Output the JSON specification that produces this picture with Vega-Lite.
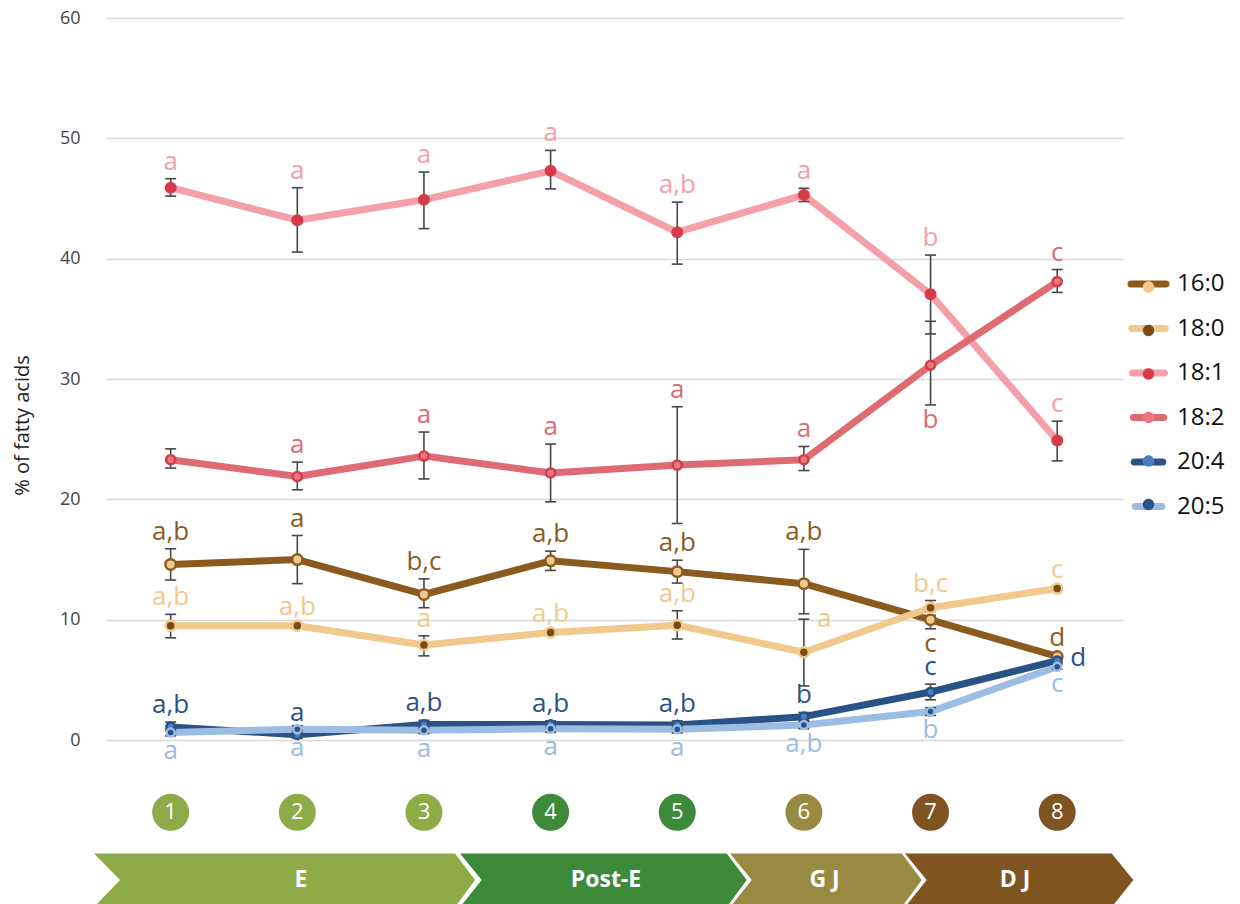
{
  "$schema": "https://vega.github.io/schema/vega-lite/v6.json",
  "autosize": {"type": "none"},
  "padding": {"left": 106, "top": 18, "right": 117, "bottom": 0},
  "width": 1017,
  "height": 886,
  "background": "white",
  "config": {"view": {"stroke": null}, "font": "Open Sans"},
  "datasets": {
    "fa": [
      {"s": "16:0", "x": 1, "v": 14.6, "lo": 13.3, "hi": 15.9, "lab": "a,b", "pos": "above"},
      {"s": "16:0", "x": 2, "v": 15.0, "lo": 13.0, "hi": 17.0, "lab": "a", "pos": "above"},
      {"s": "16:0", "x": 3, "v": 12.1, "lo": 11.0, "hi": 13.4, "lab": "b,c", "pos": "above"},
      {"s": "16:0", "x": 4, "v": 14.9, "lo": 14.1, "hi": 15.7, "lab": "a,b", "pos": "above"},
      {"s": "16:0", "x": 5, "v": 14.0, "lo": 13.05, "hi": 14.95, "lab": "a,b", "pos": "above"},
      {"s": "16:0", "x": 6, "v": 13.0, "lo": 10.5, "hi": 15.85, "lab": "a,b", "pos": "above"},
      {"s": "16:0", "x": 7, "v": 10.0, "lo": 9.25, "hi": 10.75, "lab": "c", "pos": "below"},
      {"s": "16:0", "x": 8, "v": 6.95, "lo": 6.8, "hi": 7.1, "lab": "d", "pos": "above"},
      {"s": "18:0", "x": 1, "v": 9.5, "lo": 8.5, "hi": 10.45, "lab": "a,b", "pos": "above"},
      {"s": "18:0", "x": 2, "v": 9.5, "lo": 9.35, "hi": 9.65, "lab": "a,b", "pos": "above"},
      {"s": "18:0", "x": 3, "v": 7.9, "lo": 7.0, "hi": 8.67, "lab": "a", "pos": "above"},
      {"s": "18:0", "x": 4, "v": 8.95, "lo": 8.8, "hi": 9.1, "lab": "a,b", "pos": "above"},
      {"s": "18:0", "x": 5, "v": 9.55, "lo": 8.4, "hi": 10.75, "lab": "a,b", "pos": "above"},
      {"s": "18:0", "x": 6, "v": 7.3, "lo": 4.5, "hi": 10.05, "lab": "a", "pos": "right"},
      {"s": "18:0", "x": 7, "v": 11.0, "lo": 10.35, "hi": 11.6, "lab": "b,c", "pos": "above"},
      {"s": "18:0", "x": 8, "v": 12.6, "lo": 12.45, "hi": 12.75, "lab": "c", "pos": "above"},
      {"s": "18:1", "x": 1, "v": 45.9, "lo": 45.2, "hi": 46.65, "lab": "a", "pos": "above"},
      {"s": "18:1", "x": 2, "v": 43.2, "lo": 40.55, "hi": 45.9, "lab": "a", "pos": "above"},
      {"s": "18:1", "x": 3, "v": 44.9, "lo": 42.5, "hi": 47.2, "lab": "a", "pos": "above"},
      {"s": "18:1", "x": 4, "v": 47.3, "lo": 45.8, "hi": 49.0, "lab": "a", "pos": "above"},
      {"s": "18:1", "x": 5, "v": 42.2, "lo": 39.55, "hi": 44.7, "lab": "a,b", "pos": "above"},
      {"s": "18:1", "x": 6, "v": 45.3, "lo": 44.75, "hi": 45.85, "lab": "a", "pos": "above"},
      {"s": "18:1", "x": 7, "v": 37.05, "lo": 33.75, "hi": 40.3, "lab": "b", "pos": "above"},
      {"s": "18:1", "x": 8, "v": 24.9, "lo": 23.2, "hi": 26.5, "lab": "c", "pos": "above"},
      {"s": "18:2", "x": 1, "v": 23.3, "lo": 22.6, "hi": 24.2, "lab": "", "pos": "none"},
      {"s": "18:2", "x": 2, "v": 21.9, "lo": 20.8, "hi": 23.1, "lab": "a", "pos": "above"},
      {"s": "18:2", "x": 3, "v": 23.6, "lo": 21.7, "hi": 25.6, "lab": "a", "pos": "above"},
      {"s": "18:2", "x": 4, "v": 22.2, "lo": 19.8, "hi": 24.6, "lab": "a", "pos": "above"},
      {"s": "18:2", "x": 5, "v": 22.85, "lo": 18.0, "hi": 27.7, "lab": "a", "pos": "above"},
      {"s": "18:2", "x": 6, "v": 23.3, "lo": 22.4, "hi": 24.4, "lab": "a", "pos": "above"},
      {"s": "18:2", "x": 7, "v": 31.15, "lo": 27.85, "hi": 34.8, "lab": "b", "pos": "below"},
      {"s": "18:2", "x": 8, "v": 38.1, "lo": 37.2, "hi": 39.1, "lab": "c", "pos": "above"},
      {"s": "20:4", "x": 1, "v": 1.1, "lo": 0.8, "hi": 1.5, "lab": "a,b", "pos": "above"},
      {"s": "20:4", "x": 2, "v": 0.45, "lo": 0.15, "hi": 0.8, "lab": "a", "pos": "above"},
      {"s": "20:4", "x": 3, "v": 1.3, "lo": 1.0, "hi": 1.65, "lab": "a,b", "pos": "above"},
      {"s": "20:4", "x": 4, "v": 1.3, "lo": 1.0, "hi": 1.6, "lab": "a,b", "pos": "above"},
      {"s": "20:4", "x": 5, "v": 1.25, "lo": 0.95, "hi": 1.6, "lab": "a,b", "pos": "above"},
      {"s": "20:4", "x": 6, "v": 1.95, "lo": 1.65, "hi": 2.3, "lab": "b", "pos": "above"},
      {"s": "20:4", "x": 7, "v": 4.0, "lo": 3.35, "hi": 4.65, "lab": "c", "pos": "above"},
      {"s": "20:4", "x": 8, "v": 6.6, "lo": 6.4, "hi": 6.8, "lab": "d", "pos": "right"},
      {"s": "20:5", "x": 1, "v": 0.64, "lo": 0.35, "hi": 0.9, "lab": "a", "pos": "below"},
      {"s": "20:5", "x": 2, "v": 0.9, "lo": 0.6, "hi": 1.2, "lab": "a", "pos": "below"},
      {"s": "20:5", "x": 3, "v": 0.83, "lo": 0.55, "hi": 1.1, "lab": "a", "pos": "below"},
      {"s": "20:5", "x": 4, "v": 0.95, "lo": 0.65, "hi": 1.25, "lab": "a", "pos": "below"},
      {"s": "20:5", "x": 5, "v": 0.9, "lo": 0.6, "hi": 1.2, "lab": "a", "pos": "below"},
      {"s": "20:5", "x": 6, "v": 1.25, "lo": 0.95, "hi": 1.55, "lab": "a,b", "pos": "below"},
      {"s": "20:5", "x": 7, "v": 2.37, "lo": 2.05, "hi": 2.7, "lab": "b", "pos": "below"},
      {"s": "20:5", "x": 8, "v": 6.1, "lo": 5.9, "hi": 6.3, "lab": "c", "pos": "below"}
    ],
    "stages": [
      {"stage": "E", "y": -9.41, "xl": 0.3948, "xr": 3.2452},
      {"stage": "E", "y": -11.62, "xl": 0.6001, "xr": 3.4031},
      {"stage": "E", "y": -13.88, "xl": 0.3948, "xr": 3.2452},
      {"stage": "Post-E", "y": -9.41, "xl": 3.2847, "xr": 5.3904},
      {"stage": "Post-E", "y": -11.62, "xl": 3.456, "xr": 5.5483},
      {"stage": "Post-E", "y": -13.88, "xl": 3.2847, "xr": 5.3904},
      {"stage": "G J", "y": -9.41, "xl": 5.4165, "xr": 6.7722},
      {"stage": "G J", "y": -11.62, "xl": 5.5878, "xr": 6.9301},
      {"stage": "G J", "y": -13.88, "xl": 5.4165, "xr": 6.7722},
      {"stage": "D J", "y": -9.41, "xl": 6.7983, "xr": 8.4303},
      {"stage": "D J", "y": -11.62, "xl": 6.9696, "xr": 8.6009},
      {"stage": "D J", "y": -13.88, "xl": 6.7983, "xr": 8.4303}
    ],
    "stagelabels": [
      {"stage": "E", "x": 2.029},
      {"stage": "Post-E", "x": 4.437},
      {"stage": "G J", "x": 6.163},
      {"stage": "D J", "x": 7.667}
    ],
    "samples": [
      {"x": 1, "n": "1", "stage": "E"},
      {"x": 2, "n": "2", "stage": "E"},
      {"x": 3, "n": "3", "stage": "E"},
      {"x": 4, "n": "4", "stage": "Post-E"},
      {"x": 5, "n": "5", "stage": "Post-E"},
      {"x": 6, "n": "6", "stage": "G J"},
      {"x": 7, "n": "7", "stage": "D J"},
      {"x": 8, "n": "8", "stage": "D J"}
    ]
  },
  "resolve": {"scale": {"fill": "independent"}},
  "layer": [
    {
      "data": {"name": "fa"},
      "mark": {"type": "line", "strokeWidth": 7, "strokeCap": "round", "strokeJoin": "round"},
      "encoding": {
        "x": {"field": "x", "type": "quantitative", "scale": {"domain": [0.4895, 8.5195], "nice": false, "zero": false}, "axis": null},
        "y": {
          "field": "v", "type": "quantitative",
          "scale": {"domain": [-13.616, 60], "nice": false, "zero": false},
          "axis": {
            "title": "% of fatty acids", "values": [0, 10, 20, 30, 40, 50, 60],
            "grid": true, "gridColor": "#d9d9d9", "gridWidth": 1.5,
            "domain": false, "ticks": false,
            "labelFontSize": 18, "labelColor": "#444444", "labelPadding": 26,
            "titleFontSize": 20, "titleFontWeight": "normal", "titleColor": "#222222",
            "titleAngle": -90, "titleX": -84, "titleY": 407, "titleAlign": "center", "titleBaseline": "middle"
          }
        },
        "color": {
          "field": "s", "type": "nominal",
          "scale": {"domain": ["16:0", "18:0", "18:1", "18:2", "20:4", "20:5"], "range": ["#8b5a1e", "#f2c98c", "#f4a0a8", "#e06a72", "#2a5286", "#9bbde3"]},
          "legend": {
            "orient": "none", "legendX": 1030.5, "legendY": 254, "title": null,
            "symbolType": "M-3.33,0L3.33,0", "symbolSize": 506, "symbolStrokeWidth": 7,
            "labelFontSize": 24, "labelColor": "#111111", "labelOffset": 16.5, "rowPadding": 16.5, "padding": 0,
            "encode": {"symbols": {"update": {"strokeWidth": {"value": 7}, "strokeCap": {"value": "round"}, "fill": {"value": "transparent"}}}}
          }
        }
      }
    },
    {
      "data": {"name": "stages"},
      "mark": {"type": "area", "orient": "horizontal"},
      "encoding": {
        "y": {"field": "y", "type": "quantitative", "title": "% of fatty acids"},
        "x": {"field": "xl", "type": "quantitative", "axis": null},
        "x2": {"field": "xr"},
        "fill": {"field": "stage", "type": "nominal", "scale": {"domain": ["E", "Post-E", "G J", "D J"], "range": ["#8dab47", "#3d8a3b", "#988b41", "#7f5421"]}, "legend": null}
      }
    },
    {
      "data": {"name": "stagelabels"},
      "mark": {"type": "text", "fontSize": 23, "fontWeight": "bold", "color": "white", "baseline": "middle", "align": "center"},
      "encoding": {
        "x": {"field": "x", "type": "quantitative", "axis": null},
        "y": {"datum": -11.62, "type": "quantitative"},
        "text": {"field": "stage"}
      }
    },
    {
      "data": {"name": "samples"},
      "mark": {"type": "point", "filled": true, "shape": "circle", "size": 1370, "opacity": 1},
      "encoding": {
        "x": {"field": "x", "type": "quantitative", "axis": null},
        "y": {"datum": -6, "type": "quantitative"},
        "fill": {"field": "stage", "type": "nominal", "scale": {"domain": ["E", "Post-E", "G J", "D J"], "range": ["#8dab47", "#3d8a3b", "#988b41", "#7f5421"]}, "legend": null}
      }
    },
    {
      "data": {"name": "samples"},
      "mark": {"type": "text", "fontSize": 22, "color": "white", "baseline": "middle", "align": "center"},
      "encoding": {
        "x": {"field": "x", "type": "quantitative", "axis": null},
        "y": {"datum": -6, "type": "quantitative"},
        "text": {"field": "n"}
      }
    },
    {
      "data": {"name": "fa"},
      "mark": {"type": "rule", "color": "#474747", "strokeWidth": 1.6},
      "encoding": {
        "x": {"field": "x", "type": "quantitative", "axis": null},
        "y": {"field": "lo", "type": "quantitative", "title": "% of fatty acids"},
        "y2": {"field": "hi"}
      }
    },
    {
      "data": {"name": "fa"},
      "mark": {"type": "tick", "orient": "horizontal", "size": 11, "thickness": 1.6, "color": "#474747", "opacity": 1},
      "encoding": {
        "x": {"field": "x", "type": "quantitative", "axis": null},
        "y": {"field": "lo", "type": "quantitative", "title": "% of fatty acids"}
      }
    },
    {
      "data": {"name": "fa"},
      "mark": {"type": "tick", "orient": "horizontal", "size": 11, "thickness": 1.6, "color": "#474747", "opacity": 1},
      "encoding": {
        "x": {"field": "x", "type": "quantitative", "axis": null},
        "y": {"field": "hi", "type": "quantitative", "title": "% of fatty acids"}
      }
    },
    {
      "data": {"name": "fa"},
      "mark": {"type": "point", "filled": true, "shape": "circle", "strokeWidth": 2.5, "opacity": 1},
      "encoding": {
        "x": {"field": "x", "type": "quantitative", "axis": null},
        "y": {"field": "v", "type": "quantitative", "title": "% of fatty acids"},
        "fill": {
          "field": "s", "type": "nominal",
          "scale": {"domain": ["16:0", "18:0", "18:1", "18:2", "20:4", "20:5"], "range": ["#f2c98c", "#7a4b17", "#d63b47", "#e8787f", "#4a80c2", "#2a5286"]},
          "legend": {
            "orient": "none", "legendX": 1027.5, "legendY": 254, "title": null,
            "symbolType": "M0.42,0A0.42,0.42,0,1,1,-0.42,0A0.42,0.42,0,1,1,0.42,0Z", "symbolSize": 729, "symbolStrokeWidth": 3,
            "labelFontSize": 24, "labelExpr": "''", "labelOffset": 19.5, "rowPadding": 16.5, "padding": 0,
            "encode": {"symbols": {"update": {"stroke": {"scale": "stroke", "field": "value"}, "strokeWidth": {"value": 3}, "opacity": {"value": 1}}}}
          }
        },
        "stroke": {
          "field": "s", "type": "nominal",
          "scale": {"domain": ["16:0", "18:0", "18:1", "18:2", "20:4", "20:5"], "range": ["#8b5a1e", "#f2c98c", "#d63b47", "#d63b47", "#2a5286", "#9bbde3"]},
          "legend": null
        },
        "size": {
          "field": "s", "type": "ordinal",
          "scale": {"domain": ["16:0", "18:0", "18:1", "18:2", "20:4", "20:5"], "range": [110, 64, 90, 150, 110, 72]},
          "legend": null
        }
      }
    },
    {
      "data": {"name": "fa"},
      "transform": [{"filter": "datum.pos === 'above'"}],
      "mark": {"type": "text", "fontSize": 26, "baseline": "alphabetic", "align": "center", "dy": -9},
      "encoding": {
        "x": {"field": "x", "type": "quantitative", "axis": null},
        "y": {"field": "hi", "type": "quantitative", "title": "% of fatty acids"},
        "text": {"field": "lab"},
        "color": {"field": "s", "type": "nominal", "legend": null}
      }
    },
    {
      "data": {"name": "fa"},
      "transform": [{"filter": "datum.pos === 'below'"}],
      "mark": {"type": "text", "fontSize": 26, "baseline": "top", "align": "center", "dy": 2},
      "encoding": {
        "x": {"field": "x", "type": "quantitative", "axis": null},
        "y": {"field": "lo", "type": "quantitative", "title": "% of fatty acids"},
        "text": {"field": "lab"},
        "color": {"field": "s", "type": "nominal", "legend": null}
      }
    },
    {
      "data": {"name": "fa"},
      "transform": [{"filter": "datum.pos === 'right'"}],
      "mark": {"type": "text", "fontSize": 26, "baseline": "middle", "align": "left", "dx": 13},
      "encoding": {
        "x": {"field": "x", "type": "quantitative", "axis": null},
        "y": {"field": "hi", "type": "quantitative", "title": "% of fatty acids"},
        "text": {"field": "lab"},
        "color": {"field": "s", "type": "nominal", "legend": null}
      }
    }
  ]
}
